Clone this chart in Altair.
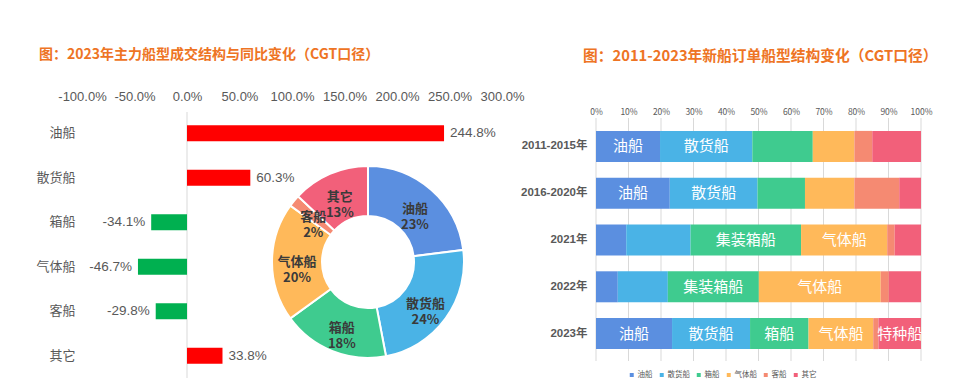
import altair as alt
import pandas as pd

FONT = "Noto Sans CJK SC"
NUM_FONT = "Liberation Sans"
MIX_FONT = "Liberation Sans, Noto Sans CJK SC, sans-serif"

# ---------------- data ----------------
types = ["油船", "散货船", "箱船", "气体船", "客船", "其它"]
yoy = [2.448, 0.603, -0.341, -0.467, -0.298, 0.338]
share2023 = [23, 24, 18, 20, 2, 13]
colors = ["#5B8FE0", "#4AB3E6", "#3FCB8F", "#FFB95A", "#F58A72", "#F2607A"]

periods = ["2011-2015年", "2016-2020年", "2021年", "2022年", "2023年"]
oil = [19.7, 22.7, 9.3, 6.7, 23.4]
bulk = [28.4, 27.0, 19.8, 15.4, 24.0]
container = [18.6, 14.6, 34.0, 28.0, 18.0]
gas = [12.8, 15.2, 26.5, 37.5, 19.9]
passenger = [5.5, 13.8, 2.3, 2.5, 1.6]
other = [15.0, 6.7, 8.1, 9.9, 13.1]

oil_lab = ["油船", "油船", "", "", "油船"]
bulk_lab = ["散货船", "散货船", "", "", "散货船"]
cont_lab = ["", "", "集装箱船", "集装箱船", "箱船"]
gas_lab = ["", "", "气体船", "气体船", "气体船"]
pass_lab = ["", "", "", "", ""]
other_lab = ["", "", "", "", "特种船"]

x_ticks_left = [-1.0, -0.5, 0.0, 0.5, 1.0, 1.5, 2.0, 2.5, 3.0]
x_ticks_right = [0.0, 0.1, 0.2, 0.3, 0.4, 0.5, 0.6, 0.7, 0.8, 0.9, 1.0]

title_left = "图：2023年主力船型成交结构与同比变化（CGT口径）"
title_right = "图：2011-2023年新船订单船型结构变化（CGT口径）"

# ---------------- layout (plot origin sits where the right chart's axes meet) ----------------
OX, OY = 588, 116
PAD_L, PAD_T = OX - 8, OY - 8


def px(x):
    return x - OX


def py(y):
    return y - OY


# ---------------- tables ----------------
left_df = pd.DataFrame({"type": types, "yoy": yoy,
                        "lab": [f"{v * 100:.1f}%" for v in yoy]})
zero_df = pd.DataFrame({"yoy": [0.0]})
donut_df = pd.DataFrame({
    "type": types,
    "share": share2023,
    "idx": list(range(len(types))),
    "lab": [f"{t}\n{s}%" for t, s in zip(types, share2023)],
})
series = [oil, bulk, container, gas, passenger, other]
labels = [oil_lab, bulk_lab, cont_lab, gas_lab, pass_lab, other_lab]
rows = []
for ti, (t, vals, labs) in enumerate(zip(types, series, labels)):
    for p, v, l in zip(periods, vals, labs):
        rows.append({"period": p, "type": t, "v": v, "idx": ti, "lab": l})
right_df = pd.DataFrame(rows)
grid_df = pd.DataFrame({"g": x_ticks_right})

color_scale = alt.Scale(domain=types, range=colors)
legend = alt.Legend(
    orient="none", legendX=px(628), legendY=py(371), direction="horizontal", title=None,
    symbolType="square", symbolSize=30, labelFontSize=7.5, labelColor="#595959",
    columnPadding=3, labelOffset=2, labelFont=FONT,
)

# ---------------- left bar chart ----------------
xl_scale = alt.Scale(domain=[-1, 3], range=[px(82), px(502)], nice=False, zero=False)
xl_axis = alt.Axis(orient="top", values=x_ticks_left, format=".1%", title=None,
                   labelExpr="replace(datum.label, '\u2212', '-')", labelOverlap=False,
                   labelFlush=False, offset=OY - 103, ticks=False, labelPadding=0,
                   domain=False, grid=False, labelFontSize=13, labelColor="#595959",
                   labelFont=NUM_FONT)
yl_scale = alt.Scale(domain=types, range=[py(111), py(378)], paddingInner=0, paddingOuter=0)
yl_axis = alt.Axis(orient="left", title=None, offset=OX - 75, ticks=False,
                   labelPadding=0, domain=False, grid=False, labelFontSize=13,
                   labelColor="#595959", labelFont=FONT)

zero_rule = alt.Chart(zero_df).mark_rule(color="#D9D9D9", strokeWidth=1).encode(
    x=alt.X("yoy:Q", scale=xl_scale, axis=None),
    y=alt.value(py(112)), y2=alt.value(py(378)),
)
bars_left = alt.Chart(left_df).mark_bar(size=16).encode(
    x=alt.X("yoy:Q", scale=xl_scale, axis=xl_axis),
    y=alt.Y("type:N", sort=types, scale=yl_scale, axis=yl_axis),
    color=alt.condition("datum.yoy > 0", alt.value("#FF0000"), alt.value("#00B050")),
)
pos_text = alt.Chart(left_df).transform_filter("datum.yoy > 0").mark_text(
    align="left", baseline="middle", dx=6, fontSize=13.5, color="#595959", font=NUM_FONT
).encode(x=alt.X("yoy:Q", scale=xl_scale, axis=None),
         y=alt.Y("type:N", sort=types, scale=yl_scale, axis=None), text="lab:N")
neg_text = alt.Chart(left_df).transform_filter("datum.yoy < 0").mark_text(
    align="right", baseline="middle", dx=-6, fontSize=13.5, color="#595959", font=NUM_FONT
).encode(x=alt.X("yoy:Q", scale=xl_scale, axis=None),
         y=alt.Y("type:N", sort=types, scale=yl_scale, axis=None), text="lab:N")

# ---------------- donut ----------------
CX, CY = px(368), py(262)
theta_scale = alt.Scale(domain=[0, 100], range=[0, 6.283185307])
donut_base = alt.Chart(donut_df).transform_stack(
    stack="share", groupby=[], as_=["t0", "t1"], sort=[alt.SortField("idx", order="ascending")]
).transform_calculate(mid="(datum.t0 + datum.t1) / 2")
arcs = donut_base.mark_arc(outerRadius=96, innerRadius=46, stroke="white", strokeWidth=2).encode(
    theta=alt.Theta("t0:Q", scale=theta_scale, stack=False),
    theta2="t1:Q",
    color=alt.Color("type:N", scale=color_scale, legend=legend),
    x=alt.value(CX), y=alt.value(CY),
)
arc_text = donut_base.mark_text(
    radius=71, fontSize=13, fontWeight="bold", color="#3A3A3A", lineBreak="\n",
    lineHeight=16, font=FONT, baseline="middle"
).encode(
    theta=alt.Theta("mid:Q", scale=theta_scale, stack=False),
    text="lab:N",
    x=alt.value(CX), y=alt.value(CY),
)

# ---------------- right stacked chart ----------------
xr_scale = alt.Scale(domain=[0, 1], range=[px(596), px(921)], nice=False, zero=False)
xr_axis = alt.Axis(orient="top", values=x_ticks_right, format=".0%", title=None,
                   ticks=False, labelPadding=0, domain=False, labelOverlap=False,
                   labelFlush=False, grid=False, labelFontSize=8.5, labelColor="#595959",
                   labelFont=FONT)
yr_scale = alt.Scale(domain=periods, range=[py(123), py(357)], paddingInner=0, paddingOuter=0)
yr_axis = alt.Axis(orient="left", title=None, labelFontSize=11.5, labelColor="#595959",
                   labelFontWeight="bold", domain=False, ticks=False, labelPadding=1,
                   labelFont=MIX_FONT)

grid_rules = alt.Chart(grid_df).mark_rule(color="#D9D9D9", strokeWidth=1).encode(
    x=alt.X("g:Q", scale=xr_scale, axis=None),
    y=alt.value(py(118)), y2=alt.value(py(361)),
)
right_base = alt.Chart(right_df).transform_stack(
    stack="v", groupby=["period"], as_=["v0", "v1"], offset="normalize",
    sort=[alt.SortField("idx", order="ascending")]
).transform_calculate(mid="(datum.v0 + datum.v1) / 2")
bars_right = right_base.mark_bar(size=31).encode(
    x=alt.X("v0:Q", scale=xr_scale, axis=xr_axis),
    x2="v1:Q",
    y=alt.Y("period:N", sort=periods, scale=yr_scale, axis=yr_axis),
    color=alt.Color("type:N", scale=color_scale, legend=legend),
)
text_right = right_base.mark_text(
    fontSize=15, color="white", baseline="middle", font=FONT
).encode(
    x=alt.X("mid:Q", scale=xr_scale, axis=None),
    y=alt.Y("period:N", sort=periods, scale=yr_scale, axis=None),
    text="lab:N",
)

# ---------------- titles ----------------
t1 = alt.Chart(pd.DataFrame({"t": [title_left]})).mark_text(
    align="left", baseline="middle", fontSize=14, fontWeight="bold", color="#EE7424", font=FONT
).encode(text="t:N", x=alt.value(px(39)), y=alt.value(py(55)))
t2 = alt.Chart(pd.DataFrame({"t": [title_right]})).mark_text(
    align="left", baseline="middle", fontSize=14.75, fontWeight="bold", color="#EE7424", font=FONT
).encode(text="t:N", x=alt.value(px(583)), y=alt.value(py(57)))

chart = alt.layer(
    zero_rule, bars_left, pos_text, neg_text,
    arcs, arc_text,
    grid_rules, bars_right, text_right,
    t1, t2,
).resolve_scale(
    x="independent", y="independent"
).properties(
    width=949 - PAD_L, height=373 - PAD_T,
    autosize=alt.AutoSizeParams(type="none"),
    padding={"left": PAD_L, "top": PAD_T, "right": 0, "bottom": 0},
    background="white",
).configure(font=FONT).configure_view(stroke=None)

chart.save("out.html", embed_options={"renderer": "svg", "actions": False})
